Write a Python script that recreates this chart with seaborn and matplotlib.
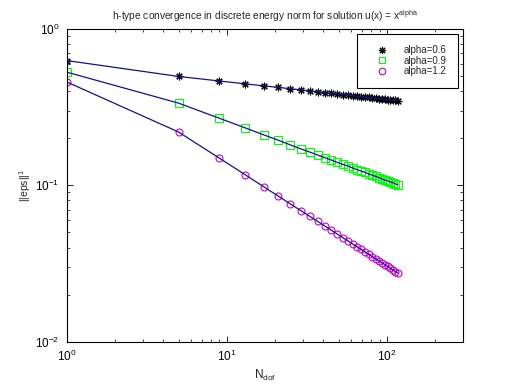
import matplotlib
matplotlib.use("Agg")
import matplotlib.pyplot as plt
from matplotlib.lines import Line2D
import seaborn as sns
import pandas as pd
from matplotlib.ticker import LogLocator, NullFormatter

sns.set_theme(style="white")
plt.rcParams['font.family'] = ['Liberation Sans', 'DejaVu Sans']
plt.rcParams['mathtext.fontset'] = 'custom'
plt.rcParams['mathtext.rm'] = 'Liberation Sans'
plt.rcParams['mathtext.it'] = 'Liberation Sans'

ndof = [1, 5, 9, 13, 17, 21, 25, 29, 33, 37, 41, 45, 49, 53, 57, 61, 65, 69,
        73, 77, 81, 85, 89, 93, 97, 101, 105, 109, 113, 117]

err_06 = [0.627, 0.496, 0.464, 0.445, 0.432, 0.422, 0.414, 0.407, 0.401, 0.396,
          0.391, 0.387, 0.383, 0.380, 0.377, 0.374, 0.371, 0.369, 0.366, 0.364,
          0.362, 0.360, 0.358, 0.356, 0.355, 0.353, 0.352, 0.350, 0.349, 0.347]
err_09 = [0.529, 0.335, 0.268, 0.233, 0.210, 0.194, 0.181, 0.171, 0.163, 0.156,
          0.150, 0.145, 0.140, 0.136, 0.133, 0.129, 0.126, 0.123, 0.121, 0.118,
          0.116, 0.114, 0.112, 0.110, 0.108, 0.107, 0.105, 0.104, 0.102, 0.101]
err_12 = [0.458, 0.219, 0.149, 0.117, 0.0979, 0.0852, 0.0759, 0.0689, 0.0633,
          0.0587, 0.0549, 0.0516, 0.0488, 0.0463, 0.0442, 0.0422, 0.0405, 0.0389,
          0.0375, 0.0362, 0.0350, 0.0339, 0.0329, 0.0320, 0.0311, 0.0303, 0.0295,
          0.0288, 0.0281, 0.0275]

labels = ['alpha=0.6', 'alpha=0.9', 'alpha=1.2']
series = [err_06, err_09, err_12]
colors = ['black', '#00ff00', '#cc00cc']
markers = [(8, 2, 0), 's', 'o']
msizes = [5.5, 5.3, 5.0]

fig = plt.figure(figsize=(5.12, 3.84), dpi=100)
ax = fig.add_axes([0.13, 0.11, 0.775, 0.815])

for lab, vals, col, mk, ms in zip(labels, series, colors, markers, msizes):
    df = pd.DataFrame({'N': ndof, 'err': vals})
    sns.lineplot(data=df, x='N', y='err', ax=ax, linestyle='none',
                 marker=mk, markersize=ms, mfc='none', mec=col, color=col,
                 mew=0.8, estimator=None, sort=False, legend=False)
for vals in series:
    df = pd.DataFrame({'N': ndof, 'err': vals})
    sns.lineplot(data=df, x='N', y='err', ax=ax, color='#12128f', lw=0.9,
                 estimator=None, sort=False, legend=False)

ax.set_xscale('log')
ax.set_yscale('log')
ax.set_xlim(1, 300)
ax.set_ylim(0.01, 1)

for sp in ax.spines.values():
    sp.set_color('black')
    sp.set_linewidth(0.8)

ax.xaxis.set_major_locator(LogLocator(base=10, numticks=10))
ax.yaxis.set_major_locator(LogLocator(base=10, numticks=10))
ax.xaxis.set_minor_locator(LogLocator(base=10, subs=range(2, 10), numticks=20))
ax.yaxis.set_minor_locator(LogLocator(base=10, subs=range(2, 10), numticks=20))
ax.xaxis.set_minor_formatter(NullFormatter())
ax.yaxis.set_minor_formatter(NullFormatter())
ax.tick_params(which='both', direction='in', top=True, right=True,
               bottom=True, left=True, colors='black', labelsize=8.5)
ax.tick_params(which='major', length=4, width=0.6, pad=5)
ax.tick_params(which='minor', length=2, width=0.5)

ax.set_title('h-type convergence in discrete energy norm for solution u(x) = x$^{alpha}$',
             fontsize=7.3, pad=6)
ax.set_xlabel('N$_{dof}$', fontsize=8.5, labelpad=3)
ax.set_ylabel('||eps||$^1$', fontsize=7.5, labelpad=2)

handles = [Line2D([], [], linestyle='none', marker=mk, markersize=ms - 0.3,
                  mfc='none', mec=col, mew=0.8)
           for col, mk, ms in zip(colors, markers, msizes)]
leg = ax.legend(handles, labels, loc='upper right', fontsize=7, frameon=True,
                fancybox=False, edgecolor='black', framealpha=1,
                borderaxespad=0.5, borderpad=1.2, handletextpad=1.0,
                labelspacing=0.05, handlelength=2.6)
leg.get_frame().set_linewidth(0.8)

fig.savefig('out.png', dpi=100, facecolor='white')
